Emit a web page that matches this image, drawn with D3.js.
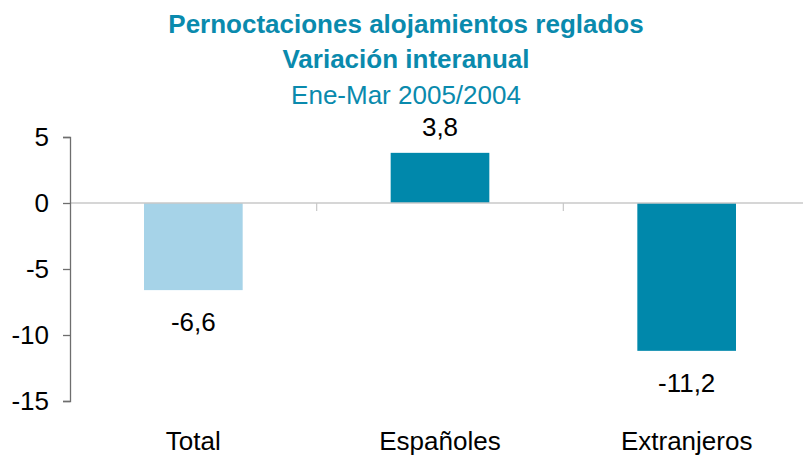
<!DOCTYPE html>
<html>
<head>
<meta charset="utf-8">
<script src="https://cdn.jsdelivr.net/npm/d3@7"></script>
<style>
  body { margin: 0; background: #fff; }
  text { font-family: "Liberation Sans", Arial, sans-serif; }
</style>
</head>
<body>
<div id="chart"></div>
<script>
const width = 803;
const height = 455;

const categories = ["Total", "Españoles", "Extranjeros"];
const values = [-6.6, 3.8, -11.2];
const barColors = ["#a6d3e8", "#0088ab", "#0088ab"];
const yTicks = [5, 0, -5, -10, -15];
const titleLines = ["Pernoctaciones alojamientos reglados", "Variación interanual", "Ene-Mar 2005/2004"];

const svg = d3.select("#chart").append("svg")
  .attr("width", width).attr("height", height);

// titulo
const titleColor = "#0a8aad";
svg.append("text").attr("x", 406).attr("y", 33).attr("text-anchor", "middle")
  .attr("fill", titleColor).attr("font-size", 26).attr("font-weight", "bold").text(titleLines[0]);
svg.append("text").attr("x", 406).attr("y", 68).attr("text-anchor", "middle")
  .attr("fill", titleColor).attr("font-size", 26).attr("font-weight", "bold").text(titleLines[1]);
svg.append("text").attr("x", 406).attr("y", 104).attr("text-anchor", "middle")
  .attr("fill", titleColor).attr("font-size", 26).text(titleLines[2]);

const x = d3.scaleBand()
  .domain(categories)
  .range([70, 810])
  .paddingInner(0.6)
  .paddingOuter(0.3);

const y = d3.scaleLinear()
  .domain([-15, 5])
  .range([401, 137]);

const fmt = v => d3.format(".1f")(v).replace("−", "-").replace(".", ",");

// barras
svg.selectAll(".bar")
  .data(categories)
  .join("rect")
    .attr("x", d => x(d))
    .attr("width", x.bandwidth())
    .attr("y", (d, i) => y(Math.max(0, values[i])))
    .attr("height", (d, i) => Math.abs(y(values[i]) - y(0)))
    .attr("fill", (d, i) => barColors[i]);

// linea del cero
svg.append("line")
  .attr("x1", 70).attr("x2", width)
  .attr("y1", y(0)).attr("y2", y(0))
  .attr("stroke", "#c8c8c8").attr("stroke-width", 1.5);

// separadores de categorias
const seps = categories.slice(1).map(c => x(c) - x.step() * x.paddingInner() / 2);
svg.selectAll(".sep")
  .data(seps)
  .join("line")
    .attr("x1", d => d).attr("x2", d => d)
    .attr("y1", y(0)).attr("y2", y(0) + 8)
    .attr("stroke", "#c8c8c8").attr("stroke-width", 1.2);

// eje y
const yAxis = svg.append("g")
  .attr("transform", "translate(70,0)")
  .call(d3.axisLeft(y).tickValues(yTicks).tickSize(7).tickPadding(14).tickFormat(d => String(d)));
yAxis.select(".domain").attr("stroke", "#6e6e6e").attr("stroke-width", 1.3);
yAxis.selectAll(".tick line").attr("stroke", "#6e6e6e").attr("stroke-width", 1.3);
yAxis.selectAll(".tick text")
  .attr("font-size", 26).attr("fill", "#000")
  .attr("font-family", "Liberation Sans, Arial, sans-serif");

// etiquetas de valores
svg.selectAll(".val")
  .data(categories)
  .join("text")
    .attr("x", d => x(d) + x.bandwidth() / 2)
    .attr("y", (d, i) => values[i] >= 0 ? y(values[i]) - 17 : y(values[i]) + 41)
    .attr("text-anchor", "middle")
    .attr("font-size", 26)
    .attr("fill", "#000")
    .text((d, i) => fmt(values[i]));

// etiquetas de categorias
svg.selectAll(".cat")
  .data(categories)
  .join("text")
    .attr("x", d => x(d) + x.bandwidth() / 2)
    .attr("y", 450)
    .attr("text-anchor", "middle")
    .attr("font-size", 26)
    .attr("fill", "#000")
    .text(d => d);
</script>
</body>
</html>
